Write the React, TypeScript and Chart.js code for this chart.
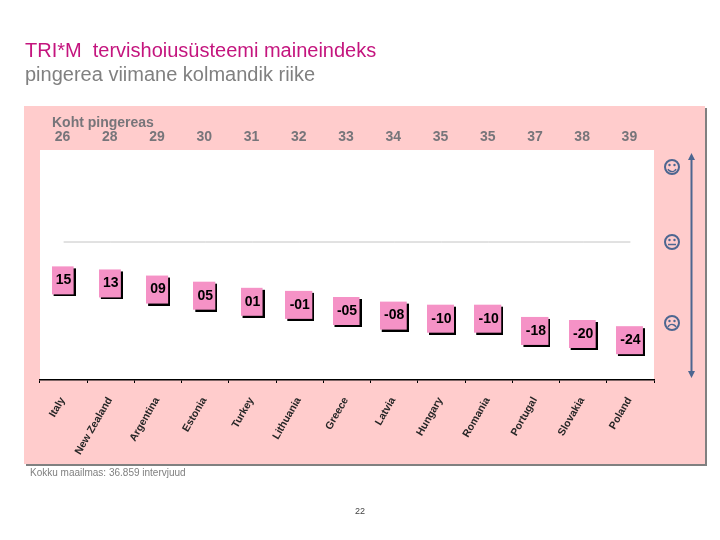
import { useEffect, useRef } from "react"
import { Chart, registerables } from "chart.js"

Chart.register(...registerables)

const countries = ["Italy", "New Zealand", "Argentina", "Estonia", "Turkey", "Lithuania", "Greece", "Latvia", "Hungary", "Romania", "Portugal", "Slovakia", "Poland"]
const indexValues = [15, 13, 9, 5, 1, -1, -5, -8, -10, -10, -18, -20, -24]
const indexLabels = ["15", "13", "09", "05", "01", "-01", "-05", "-08", "-10", "-10", "-18", "-20", "-24"]
const ranks = ["26", "28", "29", "30", "31", "32", "33", "34", "35", "35", "37", "38", "39"]
const referenceLine = [40, 40, 40, 40, 40, 40, 40, 40, 40, 40, 40, 40, 40]

const FONT = "'Liberation Sans', Arial, sans-serif"
const BLUE = "#4d6690"

// pink box with a hard black shadow, used as the point image
function makeBox(w: number, h: number) {
  const c = document.createElement("canvas")
  c.width = w + 2
  c.height = h + 4
  const ctx = c.getContext("2d")!
  ctx.fillStyle = "#000"
  ctx.fillRect(2, 4, w, h)
  ctx.fillStyle = "#f592c6"
  ctx.fillRect(0, 2, w, h)
  return c
}

function drawFace(ctx: CanvasRenderingContext2D, x: number, y: number, mood: number) {
  ctx.save()
  ctx.strokeStyle = BLUE
  ctx.fillStyle = BLUE
  ctx.lineWidth = 2
  ctx.beginPath()
  ctx.arc(x, y, 7, 0, Math.PI * 2)
  ctx.stroke()
  ctx.beginPath()
  ctx.arc(x - 2.5, y - 2, 1.2, 0, Math.PI * 2)
  ctx.arc(x + 2.5, y - 2, 1.2, 0, Math.PI * 2)
  ctx.fill()
  ctx.lineWidth = 1.5
  ctx.beginPath()
  if (mood > 0) ctx.arc(x, y, 4.5, 0.15 * Math.PI, 0.85 * Math.PI)
  else if (mood < 0) ctx.arc(x, y + 6, 4.5, 1.15 * Math.PI, 1.85 * Math.PI)
  else {
    ctx.moveTo(x - 4, y + 2.5)
    ctx.lineTo(x + 4, y + 2.5)
  }
  ctx.stroke()
  ctx.restore()
}

const slidePlugin = {
  id: "slide",
  beforeDraw(chart: Chart) {
    const ctx = chart.ctx
    const { left, right, top, bottom } = chart.chartArea
    ctx.save()
    ctx.fillStyle = "#fff"
    ctx.fillRect(0, 0, 720, 540)
    ctx.fillStyle = "#808080"
    ctx.fillRect(26, 108, 681, 358)
    ctx.fillStyle = "#ffcccc"
    ctx.fillRect(24, 106, 681, 358)
    ctx.fillStyle = "#fff"
    ctx.fillRect(left, top, right - left, bottom - top)

    ctx.textBaseline = "alphabetic"
    ctx.textAlign = "left"
    ctx.fillStyle = "#c4157e"
    ctx.font = `20px ${FONT}`
    ctx.fillText("TRI*M  tervishoiusüsteemi maineindeks", 25, 57)
    ctx.fillStyle = "#808080"
    ctx.fillText("pingerea viimane kolmandik riike", 25, 81)

    ctx.font = `bold 14px ${FONT}`
    ctx.fillStyle = "#77757a"
    ctx.fillText("Koht pingereas", 52, 127)
    ctx.fillStyle = "#808080"
    ctx.font = `10px ${FONT}`
    ctx.fillText("Kokku maailmas: 36.859 intervjuud", 30, 476)
    ctx.fillStyle = "#444"
    ctx.font = `9px ${FONT}`
    ctx.textAlign = "center"
    ctx.fillText("22", 360, 514)

    ctx.font = `bold 14px ${FONT}`
    ctx.fillStyle = "#77757a"
    ranks.forEach((r, i) => {
      ctx.fillText(r, chart.scales.x.getPixelForValue(i) - 1, 141)
    })

    // scale arrow and faces on the right
    ctx.strokeStyle = BLUE
    ctx.fillStyle = BLUE
    ctx.lineWidth = 2
    ctx.beginPath()
    ctx.moveTo(691.5, 158)
    ctx.lineTo(691.5, 373)
    ctx.stroke()
    ctx.beginPath()
    ctx.moveTo(691.5, 153)
    ctx.lineTo(688, 160)
    ctx.lineTo(695, 160)
    ctx.closePath()
    ctx.moveTo(691.5, 378)
    ctx.lineTo(688, 371)
    ctx.lineTo(695, 371)
    ctx.closePath()
    ctx.fill()
    ctx.restore()
    drawFace(ctx, 672, 167, 1)
    drawFace(ctx, 672, 242, 0)
    drawFace(ctx, 672, 323, -1)
  },
  afterDatasetsDraw(chart: Chart) {
    const ctx = chart.ctx
    const pts = chart.getDatasetMeta(0).data
    ctx.save()
    ctx.font = `bold 14px ${FONT}`
    ctx.fillStyle = "#000"
    ctx.textAlign = "center"
    ctx.textBaseline = "middle"
    pts.forEach((p, i) => {
      ctx.fillText(indexLabels[i], p.x, p.y)
    })
    ctx.restore()
  },
}

export default function App() {
  const ref = useRef<HTMLCanvasElement>(null)

  useEffect(() => {
    if (!ref.current) return
    document.body.style.margin = "0"
    const narrow = makeBox(22, 28)
    const wide = makeBox(27, 28)

    const chart = new Chart(ref.current, {
      type: "line",
      data: {
        labels: countries,
        datasets: [
          {
            data: indexValues,
            showLine: false,
            pointStyle: indexValues.map((v) => (v < 0 ? wide : narrow)) as any,
          },
          {
            data: referenceLine,
            borderColor: "#c4c4c4",
            borderWidth: 1,
            pointRadius: 0,
          },
        ],
      },
      options: {
        responsive: false,
        animation: false,
        layout: { padding: { left: 40, right: 66, top: 150, bottom: 60 } },
        plugins: { legend: { display: false }, tooltip: { enabled: false } },
        scales: {
          x: {
            offset: true,
            grid: { offset: true, drawOnChartArea: false, tickLength: 3, tickColor: "#000" },
            border: { color: "#000", width: 1.5 },
            afterFit: (s) => {
              s.height = 100
            },
            ticks: {
              autoSkip: false,
              minRotation: 60,
              maxRotation: 60,
              padding: 12,
              labelOffset: -1,
              color: "#262626",
              font: { family: FONT, size: 10.5, weight: "bold" },
            },
          },
          y: { display: false, min: -50, max: 100 },
        },
      },
      plugins: [slidePlugin],
    })

    return () => chart.destroy()
  }, [])

  return <canvas ref={ref} width={720} height={540} style={{ display: "block" }} />
}
